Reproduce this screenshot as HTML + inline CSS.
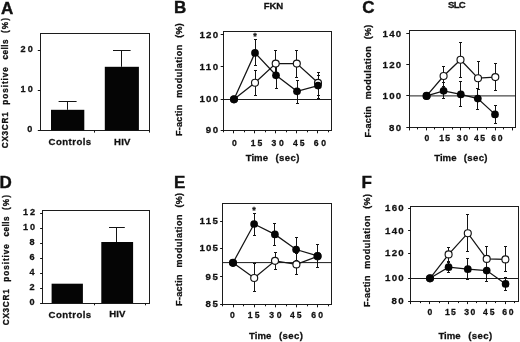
<!DOCTYPE html>
<html lang="en">
<head>
<meta charset="utf-8">
<title>CX3CR1 expression and F-actin modulation</title>
<style>
html,body{margin:0;padding:0;background:#fff;}
body{width:520px;height:342px;overflow:hidden;}
svg{display:block;filter:blur(0.3px);}
svg text{font-family:"Liberation Sans", sans-serif;font-weight:bold;fill:#111;stroke:#111;stroke-width:0.28px;}
svg text.pl{stroke-width:0.4px;}
</style>
</head>
<body>
<svg width="520" height="342" viewBox="0 0 520 342">
<rect x="0" y="0" width="520" height="342" fill="#fff"/>
<text class="pl" x="0.9" y="13.5" font-size="17">A</text>
<text transform="translate(7.8 148.2) rotate(-90) scale(1 1.18)" font-size="8.2" textLength="35.9" lengthAdjust="spacing">CX3CR1</text>
<text transform="translate(7.8 104.7) rotate(-90) scale(1 1.18)" font-size="8.2" textLength="37.6" lengthAdjust="spacing">positive</text>
<text transform="translate(7.8 59.4) rotate(-90) scale(1 1.18)" font-size="8.2" textLength="19.9" lengthAdjust="spacing">cells</text>
<text transform="translate(7.8 32.9) rotate(-90) scale(1 1.18)" font-size="8.2" textLength="14.8" lengthAdjust="spacing">(%)</text>
<line x1="40.0" y1="33.5" x2="150.0" y2="33.5" stroke="#1c1c1c" stroke-width="1.0"/>
<line x1="149.5" y1="33.5" x2="149.5" y2="130.5" stroke="#1c1c1c" stroke-width="1.0"/>
<line x1="40.5" y1="33.5" x2="40.5" y2="130.5" stroke="#1c1c1c" stroke-width="1.0"/>
<line x1="40.0" y1="130.5" x2="150.0" y2="130.5" stroke="#1c1c1c" stroke-width="1.0"/>
<line x1="37.8" y1="130.5" x2="40.5" y2="130.5" stroke="#141414" stroke-width="1.0"/>
<text x="27.2" y="131.9" font-size="9.1" textLength="5.5" lengthAdjust="spacing">0</text>
<line x1="37.8" y1="90.5" x2="40.5" y2="90.5" stroke="#141414" stroke-width="1.0"/>
<text x="20.6" y="91.89999999999999" font-size="9.1" textLength="12.1" lengthAdjust="spacing">10</text>
<line x1="37.8" y1="50.5" x2="40.5" y2="50.5" stroke="#141414" stroke-width="1.0"/>
<text x="20.6" y="52.0" font-size="9.1" textLength="12.1" lengthAdjust="spacing">20</text>
<line x1="94.5" y1="130.3" x2="94.5" y2="132.6" stroke="#141414" stroke-width="1.0"/>
<line x1="149.5" y1="130.3" x2="149.5" y2="132.6" stroke="#141414" stroke-width="1.0"/>
<rect x="51" y="109.8" width="33.3" height="20.5" fill="#050505" stroke="none" stroke-width="1.0"/>
<line x1="67.5" y1="101.0" x2="67.5" y2="109.8" stroke="#141414" stroke-width="1.0"/>
<line x1="58.6" y1="101.5" x2="76.6" y2="101.5" stroke="#141414" stroke-width="1.0"/>
<rect x="104.8" y="66.8" width="34.1" height="63.5" fill="#050505" stroke="none" stroke-width="1.0"/>
<line x1="121.5" y1="50.0" x2="121.5" y2="66.8" stroke="#141414" stroke-width="1.0"/>
<line x1="113" y1="50.5" x2="130.6" y2="50.5" stroke="#141414" stroke-width="1.0"/>
<text x="48.5" y="145" font-size="9.6" textLength="42.7" lengthAdjust="spacing">Controls</text>
<text x="114.1" y="145" font-size="9.6" textLength="16.2" lengthAdjust="spacing">HIV</text>
<text class="pl" x="-0.6" y="188.3" font-size="17">D</text>
<text transform="translate(9.3 325.2) rotate(-90) scale(1 1.18)" font-size="8.2" textLength="35.9" lengthAdjust="spacing">CX3CR1</text>
<text transform="translate(9.3 281.7) rotate(-90) scale(1 1.18)" font-size="8.2" textLength="37.6" lengthAdjust="spacing">positive</text>
<text transform="translate(9.3 236.4) rotate(-90) scale(1 1.18)" font-size="8.2" textLength="19.9" lengthAdjust="spacing">cells</text>
<text transform="translate(9.3 209.9) rotate(-90) scale(1 1.18)" font-size="8.2" textLength="14.8" lengthAdjust="spacing">(%)</text>
<line x1="42.0" y1="210.5" x2="150.0" y2="210.5" stroke="#1c1c1c" stroke-width="1.0"/>
<line x1="149.5" y1="210.5" x2="149.5" y2="303.5" stroke="#1c1c1c" stroke-width="1.0"/>
<line x1="42.5" y1="210.5" x2="42.5" y2="303.5" stroke="#1c1c1c" stroke-width="1.0"/>
<line x1="42.0" y1="303.5" x2="150.0" y2="303.5" stroke="#1c1c1c" stroke-width="1.0"/>
<line x1="40.1" y1="303.5" x2="42.8" y2="303.5" stroke="#141414" stroke-width="1.0"/>
<text x="29.6" y="304.6" font-size="9.1" textLength="5.4" lengthAdjust="spacing">0</text>
<line x1="40.1" y1="288.5" x2="42.8" y2="288.5" stroke="#141414" stroke-width="1.0"/>
<text x="29.6" y="289.6" font-size="9.1" textLength="5.4" lengthAdjust="spacing">2</text>
<line x1="40.1" y1="273.5" x2="42.8" y2="273.5" stroke="#141414" stroke-width="1.0"/>
<text x="29.6" y="274.6" font-size="9.1" textLength="5.4" lengthAdjust="spacing">4</text>
<line x1="40.1" y1="258.5" x2="42.8" y2="258.5" stroke="#141414" stroke-width="1.0"/>
<text x="29.6" y="259.6" font-size="9.1" textLength="5.4" lengthAdjust="spacing">6</text>
<line x1="40.1" y1="243.5" x2="42.8" y2="243.5" stroke="#141414" stroke-width="1.0"/>
<text x="29.6" y="244.6" font-size="9.1" textLength="5.4" lengthAdjust="spacing">8</text>
<line x1="40.1" y1="228.5" x2="42.8" y2="228.5" stroke="#141414" stroke-width="1.0"/>
<text x="22.9" y="229.6" font-size="9.1" textLength="12.1" lengthAdjust="spacing">10</text>
<line x1="40.1" y1="213.5" x2="42.8" y2="213.5" stroke="#141414" stroke-width="1.0"/>
<text x="22.9" y="214.6" font-size="9.1" textLength="12.1" lengthAdjust="spacing">12</text>
<line x1="94.5" y1="303" x2="94.5" y2="305.3" stroke="#141414" stroke-width="1.0"/>
<line x1="145.5" y1="303" x2="145.5" y2="305.3" stroke="#141414" stroke-width="1.0"/>
<rect x="51.6" y="283.7" width="31.3" height="19.3" fill="#050505" stroke="none" stroke-width="1.0"/>
<rect x="101.3" y="242" width="31.8" height="61" fill="#050505" stroke="none" stroke-width="1.0"/>
<line x1="116.5" y1="227.0" x2="116.5" y2="242" stroke="#141414" stroke-width="1.0"/>
<line x1="109" y1="227.5" x2="124.8" y2="227.5" stroke="#141414" stroke-width="1.0"/>
<text x="48.5" y="317.6" font-size="9.6" textLength="42.7" lengthAdjust="spacing">Controls</text>
<text x="109.3" y="317.4" font-size="9.6" textLength="16.0" lengthAdjust="spacing">HIV</text>
<text class="pl" x="174" y="13.3" font-size="17">B</text>
<text x="263.8" y="9.1" font-size="9.6" textLength="19.3" lengthAdjust="spacing">FKN</text>
<text transform="translate(182.3 136.1) rotate(-90) scale(1 1.0)" font-size="9.0" textLength="31.4" lengthAdjust="spacing">F-actin</text>
<text transform="translate(182.3 97.8) rotate(-90) scale(1 1.0)" font-size="9.0" textLength="53.1" lengthAdjust="spacing">modulation</text>
<text transform="translate(182.3 37.8) rotate(-90) scale(1 1.0)" font-size="9.0" textLength="14.6" lengthAdjust="spacing">(%)</text>
<line x1="223.0" y1="31.5" x2="332.0" y2="31.5" stroke="#1c1c1c" stroke-width="1.0"/>
<line x1="331.5" y1="31.5" x2="331.5" y2="130.5" stroke="#1c1c1c" stroke-width="1.0"/>
<line x1="223.5" y1="31.5" x2="223.5" y2="130.5" stroke="#1c1c1c" stroke-width="1.0"/>
<line x1="223.0" y1="130.5" x2="332.0" y2="130.5" stroke="#1c1c1c" stroke-width="1.0"/>
<line x1="223.4" y1="99.5" x2="331.5" y2="99.5" stroke="#1c1c1c" stroke-width="1.0"/>
<line x1="220.7" y1="34.5" x2="223.4" y2="34.5" stroke="#141414" stroke-width="1.0"/>
<text x="199.4" y="37.699999999999996" font-size="9.7" textLength="18.8" lengthAdjust="spacing">120</text>
<line x1="220.7" y1="66.5" x2="223.4" y2="66.5" stroke="#141414" stroke-width="1.0"/>
<text x="199.4" y="69.60000000000001" font-size="9.7" textLength="18.8" lengthAdjust="spacing">110</text>
<line x1="220.7" y1="99.5" x2="223.4" y2="99.5" stroke="#141414" stroke-width="1.0"/>
<text x="199.4" y="102.10000000000001" font-size="9.7" textLength="18.8" lengthAdjust="spacing">100</text>
<line x1="220.7" y1="130.5" x2="223.4" y2="130.5" stroke="#141414" stroke-width="1.0"/>
<text x="205.8" y="133.4" font-size="9.7" textLength="12.4" lengthAdjust="spacing">90</text>
<line x1="223.5" y1="130.5" x2="223.5" y2="132.3" stroke="#141414" stroke-width="1.0"/>
<line x1="233.5" y1="130.5" x2="233.5" y2="133.3" stroke="#141414" stroke-width="1.0"/>
<line x1="244.5" y1="130.5" x2="244.5" y2="132.3" stroke="#141414" stroke-width="1.0"/>
<line x1="254.5" y1="130.5" x2="254.5" y2="133.3" stroke="#141414" stroke-width="1.0"/>
<line x1="265.5" y1="130.5" x2="265.5" y2="132.3" stroke="#141414" stroke-width="1.0"/>
<line x1="275.5" y1="130.5" x2="275.5" y2="133.3" stroke="#141414" stroke-width="1.0"/>
<line x1="286.5" y1="130.5" x2="286.5" y2="132.3" stroke="#141414" stroke-width="1.0"/>
<line x1="296.5" y1="130.5" x2="296.5" y2="133.3" stroke="#141414" stroke-width="1.0"/>
<line x1="307.5" y1="130.5" x2="307.5" y2="132.3" stroke="#141414" stroke-width="1.0"/>
<line x1="317.5" y1="130.5" x2="317.5" y2="133.3" stroke="#141414" stroke-width="1.0"/>
<line x1="328.5" y1="130.5" x2="328.5" y2="132.3" stroke="#141414" stroke-width="1.0"/>
<text x="234.3" y="145.8" font-size="8.6" text-anchor="middle">0</text>
<text x="250.8" y="145.8" font-size="8.6" textLength="11.6" lengthAdjust="spacing">15</text>
<text x="271.5" y="145.8" font-size="8.6" textLength="12.4" lengthAdjust="spacing">30</text>
<text x="293.0" y="145.8" font-size="8.6" textLength="11.6" lengthAdjust="spacing">45</text>
<text x="313.8" y="145.8" font-size="8.6" textLength="12.3" lengthAdjust="spacing">60</text>
<text x="245.7" y="161.3" font-size="9.6" textLength="22.3" lengthAdjust="spacing">Time</text>
<text x="275.5" y="161.3" font-size="9.6" textLength="24.0" lengthAdjust="spacing">(sec)</text>
<polyline points="234,99.3 255,82.7 275.7,63.6 296.8,63.6 318,82.8" fill="none" stroke="#141414" stroke-width="1.25"/>
<polyline points="234,99.3 255,52.9 276,75.3 297,91.3 318,85.6" fill="none" stroke="#141414" stroke-width="1.25"/>
<line x1="255.5" y1="70.0" x2="255.5" y2="96.0" stroke="#141414" stroke-width="1.0"/>
<line x1="254.0" y1="70.5" x2="257.0" y2="70.5" stroke="#141414" stroke-width="1.0"/>
<line x1="254.0" y1="95.5" x2="257.0" y2="95.5" stroke="#141414" stroke-width="1.0"/>
<line x1="275.5" y1="50.0" x2="275.5" y2="77.0" stroke="#141414" stroke-width="1.0"/>
<line x1="274.0" y1="50.5" x2="277.0" y2="50.5" stroke="#141414" stroke-width="1.0"/>
<line x1="274.0" y1="76.5" x2="277.0" y2="76.5" stroke="#141414" stroke-width="1.0"/>
<line x1="296.5" y1="50.0" x2="296.5" y2="78.0" stroke="#141414" stroke-width="1.0"/>
<line x1="295.0" y1="50.5" x2="298.0" y2="50.5" stroke="#141414" stroke-width="1.0"/>
<line x1="295.0" y1="77.5" x2="298.0" y2="77.5" stroke="#141414" stroke-width="1.0"/>
<line x1="318.5" y1="72.0" x2="318.5" y2="96.0" stroke="#141414" stroke-width="1.0"/>
<line x1="317.0" y1="72.5" x2="320.0" y2="72.5" stroke="#141414" stroke-width="1.0"/>
<line x1="317.0" y1="95.5" x2="320.0" y2="95.5" stroke="#141414" stroke-width="1.0"/>
<line x1="255.5" y1="39.0" x2="255.5" y2="66.0" stroke="#141414" stroke-width="1.0"/>
<line x1="254.0" y1="39.5" x2="257.0" y2="39.5" stroke="#141414" stroke-width="1.0"/>
<line x1="254.0" y1="65.5" x2="257.0" y2="65.5" stroke="#141414" stroke-width="1.0"/>
<line x1="276.5" y1="63.0" x2="276.5" y2="89.0" stroke="#141414" stroke-width="1.0"/>
<line x1="275.0" y1="63.5" x2="278.0" y2="63.5" stroke="#141414" stroke-width="1.0"/>
<line x1="275.0" y1="88.5" x2="278.0" y2="88.5" stroke="#141414" stroke-width="1.0"/>
<line x1="297.5" y1="80.0" x2="297.5" y2="104.0" stroke="#141414" stroke-width="1.0"/>
<line x1="296.0" y1="80.5" x2="299.0" y2="80.5" stroke="#141414" stroke-width="1.0"/>
<line x1="296.0" y1="103.5" x2="299.0" y2="103.5" stroke="#141414" stroke-width="1.0"/>
<line x1="318.5" y1="75.0" x2="318.5" y2="99.0" stroke="#141414" stroke-width="1.0"/>
<line x1="317.0" y1="75.5" x2="320.0" y2="75.5" stroke="#141414" stroke-width="1.0"/>
<line x1="317.0" y1="98.5" x2="320.0" y2="98.5" stroke="#141414" stroke-width="1.0"/>
<circle cx="234" cy="99.3" r="3.5" fill="#fff" stroke="#141414" stroke-width="1.15"/>
<circle cx="255" cy="82.7" r="3.5" fill="#fff" stroke="#141414" stroke-width="1.15"/>
<circle cx="275.7" cy="63.6" r="3.5" fill="#fff" stroke="#141414" stroke-width="1.15"/>
<circle cx="296.8" cy="63.6" r="3.5" fill="#fff" stroke="#141414" stroke-width="1.15"/>
<circle cx="318" cy="82.8" r="3.5" fill="#fff" stroke="#141414" stroke-width="1.15"/>
<circle cx="234" cy="99.3" r="3.85" fill="#050505"/>
<circle cx="255" cy="52.9" r="3.85" fill="#050505"/>
<circle cx="276" cy="75.3" r="3.85" fill="#050505"/>
<circle cx="297" cy="91.3" r="3.85" fill="#050505"/>
<circle cx="318" cy="85.6" r="3.85" fill="#050505"/>
<text x="255" y="38.5" font-size="9" text-anchor="middle">*</text>
<text class="pl" x="362.3" y="13.4" font-size="17">C</text>
<text x="447.9" y="8.1" font-size="9.6" textLength="17.9" lengthAdjust="spacing">SLC</text>
<text transform="translate(370.6 137.6) rotate(-90) scale(1 1.0)" font-size="9.0" textLength="31.4" lengthAdjust="spacing">F-actin</text>
<text transform="translate(370.6 99.3) rotate(-90) scale(1 1.0)" font-size="9.0" textLength="53.1" lengthAdjust="spacing">modulation</text>
<text transform="translate(370.6 39.3) rotate(-90) scale(1 1.0)" font-size="9.0" textLength="14.6" lengthAdjust="spacing">(%)</text>
<line x1="409.0" y1="30.5" x2="516.0" y2="30.5" stroke="#1c1c1c" stroke-width="1.0"/>
<line x1="515.5" y1="30.5" x2="515.5" y2="127.5" stroke="#1c1c1c" stroke-width="1.0"/>
<line x1="409.5" y1="30.5" x2="409.5" y2="127.5" stroke="#1c1c1c" stroke-width="1.0"/>
<line x1="409.0" y1="127.5" x2="516.0" y2="127.5" stroke="#1c1c1c" stroke-width="1.0"/>
<line x1="409" y1="95.9" x2="515.8" y2="95.9" stroke="#1c1c1c" stroke-width="1.0"/>
<line x1="406.3" y1="33.5" x2="409" y2="33.5" stroke="#141414" stroke-width="1.0"/>
<text x="382.6" y="36.6" font-size="9.7" textLength="18.6" lengthAdjust="spacing">140</text>
<line x1="406.3" y1="64.5" x2="409" y2="64.5" stroke="#141414" stroke-width="1.0"/>
<text x="382.6" y="67.60000000000001" font-size="9.7" textLength="18.6" lengthAdjust="spacing">120</text>
<line x1="406.3" y1="95.5" x2="409" y2="95.5" stroke="#141414" stroke-width="1.0"/>
<text x="382.6" y="98.7" font-size="9.7" textLength="18.6" lengthAdjust="spacing">100</text>
<line x1="406.3" y1="127.5" x2="409" y2="127.5" stroke="#141414" stroke-width="1.0"/>
<text x="389.0" y="130.5" font-size="9.7" textLength="12.2" lengthAdjust="spacing">80</text>
<line x1="409.5" y1="127.6" x2="409.5" y2="130.4" stroke="#141414" stroke-width="1.0"/>
<line x1="417.5" y1="127.6" x2="417.5" y2="129.4" stroke="#141414" stroke-width="1.0"/>
<line x1="426.5" y1="127.6" x2="426.5" y2="130.4" stroke="#141414" stroke-width="1.0"/>
<line x1="434.5" y1="127.6" x2="434.5" y2="129.4" stroke="#141414" stroke-width="1.0"/>
<line x1="443.5" y1="127.6" x2="443.5" y2="130.4" stroke="#141414" stroke-width="1.0"/>
<line x1="452.5" y1="127.6" x2="452.5" y2="129.4" stroke="#141414" stroke-width="1.0"/>
<line x1="460.5" y1="127.6" x2="460.5" y2="130.4" stroke="#141414" stroke-width="1.0"/>
<line x1="469.5" y1="127.6" x2="469.5" y2="129.4" stroke="#141414" stroke-width="1.0"/>
<line x1="477.5" y1="127.6" x2="477.5" y2="130.4" stroke="#141414" stroke-width="1.0"/>
<line x1="486.5" y1="127.6" x2="486.5" y2="129.4" stroke="#141414" stroke-width="1.0"/>
<line x1="495.5" y1="127.6" x2="495.5" y2="130.4" stroke="#141414" stroke-width="1.0"/>
<line x1="503.5" y1="127.6" x2="503.5" y2="129.4" stroke="#141414" stroke-width="1.0"/>
<line x1="512.5" y1="127.6" x2="512.5" y2="130.4" stroke="#141414" stroke-width="1.0"/>
<text x="427" y="141.3" font-size="8.6" text-anchor="middle">0</text>
<text x="439.3" y="141.3" font-size="8.6" textLength="10.7" lengthAdjust="spacing">15</text>
<text x="456.8" y="141.3" font-size="8.6" textLength="11.2" lengthAdjust="spacing">30</text>
<text x="473.9" y="141.3" font-size="8.6" textLength="11.2" lengthAdjust="spacing">45</text>
<text x="491.2" y="141.3" font-size="8.6" textLength="11.4" lengthAdjust="spacing">60</text>
<text x="434.2" y="161.3" font-size="9.6" textLength="22.3" lengthAdjust="spacing">Time</text>
<text x="463.8" y="161.3" font-size="9.6" textLength="23.7" lengthAdjust="spacing">(sec)</text>
<polyline points="426.6,95.9 443.6,76.0 460.5,59.7 478,78.2 495.3,77.1" fill="none" stroke="#141414" stroke-width="1.25"/>
<polyline points="426.6,95.9 443.6,90.8 460.8,94.4 477.8,98.6 495,114.4" fill="none" stroke="#141414" stroke-width="1.25"/>
<line x1="443.5" y1="66.0" x2="443.5" y2="87.0" stroke="#141414" stroke-width="1.0"/>
<line x1="442.0" y1="66.5" x2="445.0" y2="66.5" stroke="#141414" stroke-width="1.0"/>
<line x1="442.0" y1="86.5" x2="445.0" y2="86.5" stroke="#141414" stroke-width="1.0"/>
<line x1="460.5" y1="42.0" x2="460.5" y2="78.0" stroke="#141414" stroke-width="1.0"/>
<line x1="459.0" y1="42.5" x2="462.0" y2="42.5" stroke="#141414" stroke-width="1.0"/>
<line x1="459.0" y1="77.5" x2="462.0" y2="77.5" stroke="#141414" stroke-width="1.0"/>
<line x1="478.5" y1="61.0" x2="478.5" y2="90.0" stroke="#141414" stroke-width="1.0"/>
<line x1="477.0" y1="61.5" x2="480.0" y2="61.5" stroke="#141414" stroke-width="1.0"/>
<line x1="477.0" y1="89.5" x2="480.0" y2="89.5" stroke="#141414" stroke-width="1.0"/>
<line x1="495.5" y1="63.0" x2="495.5" y2="91.0" stroke="#141414" stroke-width="1.0"/>
<line x1="494.0" y1="63.5" x2="497.0" y2="63.5" stroke="#141414" stroke-width="1.0"/>
<line x1="494.0" y1="90.5" x2="497.0" y2="90.5" stroke="#141414" stroke-width="1.0"/>
<line x1="443.5" y1="82.0" x2="443.5" y2="99.0" stroke="#141414" stroke-width="1.0"/>
<line x1="442.0" y1="82.5" x2="445.0" y2="82.5" stroke="#141414" stroke-width="1.0"/>
<line x1="442.0" y1="98.5" x2="445.0" y2="98.5" stroke="#141414" stroke-width="1.0"/>
<line x1="460.5" y1="81.0" x2="460.5" y2="107.0" stroke="#141414" stroke-width="1.0"/>
<line x1="459.0" y1="81.5" x2="462.0" y2="81.5" stroke="#141414" stroke-width="1.0"/>
<line x1="459.0" y1="106.5" x2="462.0" y2="106.5" stroke="#141414" stroke-width="1.0"/>
<line x1="477.5" y1="88.0" x2="477.5" y2="110.0" stroke="#141414" stroke-width="1.0"/>
<line x1="476.0" y1="88.5" x2="479.0" y2="88.5" stroke="#141414" stroke-width="1.0"/>
<line x1="476.0" y1="109.5" x2="479.0" y2="109.5" stroke="#141414" stroke-width="1.0"/>
<line x1="495.5" y1="105.0" x2="495.5" y2="124.0" stroke="#141414" stroke-width="1.0"/>
<line x1="494.0" y1="105.5" x2="497.0" y2="105.5" stroke="#141414" stroke-width="1.0"/>
<line x1="494.0" y1="123.5" x2="497.0" y2="123.5" stroke="#141414" stroke-width="1.0"/>
<circle cx="426.6" cy="95.9" r="3.5" fill="#fff" stroke="#141414" stroke-width="1.15"/>
<circle cx="443.6" cy="76.0" r="3.5" fill="#fff" stroke="#141414" stroke-width="1.15"/>
<circle cx="460.5" cy="59.7" r="3.5" fill="#fff" stroke="#141414" stroke-width="1.15"/>
<circle cx="478" cy="78.2" r="3.5" fill="#fff" stroke="#141414" stroke-width="1.15"/>
<circle cx="495.3" cy="77.1" r="3.5" fill="#fff" stroke="#141414" stroke-width="1.15"/>
<circle cx="426.6" cy="95.9" r="3.85" fill="#050505"/>
<circle cx="443.6" cy="90.8" r="3.85" fill="#050505"/>
<circle cx="460.8" cy="94.4" r="3.85" fill="#050505"/>
<circle cx="477.8" cy="98.6" r="3.85" fill="#050505"/>
<circle cx="495" cy="114.4" r="3.85" fill="#050505"/>
<text class="pl" x="174" y="188.4" font-size="17">E</text>
<text transform="translate(182.3 305.9) rotate(-90) scale(1 1.0)" font-size="9.0" textLength="31.4" lengthAdjust="spacing">F-actin</text>
<text transform="translate(182.3 267.6) rotate(-90) scale(1 1.0)" font-size="9.0" textLength="53.1" lengthAdjust="spacing">modulation</text>
<text transform="translate(182.3 207.6) rotate(-90) scale(1 1.0)" font-size="9.0" textLength="14.6" lengthAdjust="spacing">(%)</text>
<line x1="222.0" y1="203.5" x2="332.0" y2="203.5" stroke="#1c1c1c" stroke-width="1.0"/>
<line x1="331.5" y1="203.5" x2="331.5" y2="304.5" stroke="#1c1c1c" stroke-width="1.0"/>
<line x1="222.5" y1="203.5" x2="222.5" y2="304.5" stroke="#1c1c1c" stroke-width="1.0"/>
<line x1="222.0" y1="304.5" x2="332.0" y2="304.5" stroke="#1c1c1c" stroke-width="1.0"/>
<line x1="222.8" y1="262.6" x2="331" y2="262.6" stroke="#1c1c1c" stroke-width="1.0"/>
<line x1="220.1" y1="221.5" x2="222.8" y2="221.5" stroke="#141414" stroke-width="1.0"/>
<text x="199.4" y="224.1" font-size="9.7" textLength="18.4" lengthAdjust="spacing">115</text>
<line x1="220.1" y1="248.5" x2="222.8" y2="248.5" stroke="#141414" stroke-width="1.0"/>
<text x="199.4" y="251.4" font-size="9.7" textLength="18.4" lengthAdjust="spacing">105</text>
<line x1="220.1" y1="276.5" x2="222.8" y2="276.5" stroke="#141414" stroke-width="1.0"/>
<text x="205.6" y="279.5" font-size="9.7" textLength="12.2" lengthAdjust="spacing">95</text>
<line x1="220.1" y1="304.5" x2="222.8" y2="304.5" stroke="#141414" stroke-width="1.0"/>
<text x="205.6" y="307.4" font-size="9.7" textLength="12.2" lengthAdjust="spacing">85</text>
<line x1="222.5" y1="304.5" x2="222.5" y2="306.3" stroke="#141414" stroke-width="1.0"/>
<line x1="233.5" y1="304.5" x2="233.5" y2="307.3" stroke="#141414" stroke-width="1.0"/>
<line x1="243.5" y1="304.5" x2="243.5" y2="306.3" stroke="#141414" stroke-width="1.0"/>
<line x1="254.5" y1="304.5" x2="254.5" y2="307.3" stroke="#141414" stroke-width="1.0"/>
<line x1="265.5" y1="304.5" x2="265.5" y2="306.3" stroke="#141414" stroke-width="1.0"/>
<line x1="275.5" y1="304.5" x2="275.5" y2="307.3" stroke="#141414" stroke-width="1.0"/>
<line x1="286.5" y1="304.5" x2="286.5" y2="306.3" stroke="#141414" stroke-width="1.0"/>
<line x1="296.5" y1="304.5" x2="296.5" y2="307.3" stroke="#141414" stroke-width="1.0"/>
<line x1="307.5" y1="304.5" x2="307.5" y2="306.3" stroke="#141414" stroke-width="1.0"/>
<line x1="317.5" y1="304.5" x2="317.5" y2="307.3" stroke="#141414" stroke-width="1.0"/>
<line x1="328.5" y1="304.5" x2="328.5" y2="306.3" stroke="#141414" stroke-width="1.0"/>
<text x="232.3" y="318.2" font-size="8.6" text-anchor="middle">0</text>
<text x="247.8" y="318.2" font-size="8.6" textLength="11.8" lengthAdjust="spacing">15</text>
<text x="269.2" y="318.2" font-size="8.6" textLength="12.4" lengthAdjust="spacing">30</text>
<text x="290.0" y="318.2" font-size="8.6" textLength="11.6" lengthAdjust="spacing">45</text>
<text x="311.2" y="318.2" font-size="8.6" textLength="11.9" lengthAdjust="spacing">60</text>
<text x="249.1" y="338.8" font-size="9.6" textLength="22.3" lengthAdjust="spacing">Time</text>
<text x="278.9" y="338.8" font-size="9.6" textLength="24.0" lengthAdjust="spacing">(sec)</text>
<polyline points="233,262.8 254.2,278 275,260.8 296.4,264.4 317.6,256.3" fill="none" stroke="#141414" stroke-width="1.25"/>
<polyline points="233,262.8 254.1,224 274.9,234.4 296.1,249.5 317.6,255.9" fill="none" stroke="#141414" stroke-width="1.25"/>
<line x1="254.5" y1="263.0" x2="254.5" y2="292.0" stroke="#141414" stroke-width="1.0"/>
<line x1="253.0" y1="263.5" x2="256.0" y2="263.5" stroke="#141414" stroke-width="1.0"/>
<line x1="253.0" y1="291.5" x2="256.0" y2="291.5" stroke="#141414" stroke-width="1.0"/>
<line x1="275.5" y1="252.0" x2="275.5" y2="270.0" stroke="#141414" stroke-width="1.0"/>
<line x1="274.0" y1="252.5" x2="277.0" y2="252.5" stroke="#141414" stroke-width="1.0"/>
<line x1="274.0" y1="269.5" x2="277.0" y2="269.5" stroke="#141414" stroke-width="1.0"/>
<line x1="296.5" y1="253.0" x2="296.5" y2="275.0" stroke="#141414" stroke-width="1.0"/>
<line x1="295.0" y1="253.5" x2="298.0" y2="253.5" stroke="#141414" stroke-width="1.0"/>
<line x1="295.0" y1="274.5" x2="298.0" y2="274.5" stroke="#141414" stroke-width="1.0"/>
<line x1="254.5" y1="213.0" x2="254.5" y2="236.0" stroke="#141414" stroke-width="1.0"/>
<line x1="253.0" y1="213.5" x2="256.0" y2="213.5" stroke="#141414" stroke-width="1.0"/>
<line x1="253.0" y1="235.5" x2="256.0" y2="235.5" stroke="#141414" stroke-width="1.0"/>
<line x1="274.5" y1="223.0" x2="274.5" y2="246.0" stroke="#141414" stroke-width="1.0"/>
<line x1="273.0" y1="223.5" x2="276.0" y2="223.5" stroke="#141414" stroke-width="1.0"/>
<line x1="273.0" y1="245.5" x2="276.0" y2="245.5" stroke="#141414" stroke-width="1.0"/>
<line x1="296.5" y1="237.0" x2="296.5" y2="261.0" stroke="#141414" stroke-width="1.0"/>
<line x1="295.0" y1="237.5" x2="298.0" y2="237.5" stroke="#141414" stroke-width="1.0"/>
<line x1="295.0" y1="260.5" x2="298.0" y2="260.5" stroke="#141414" stroke-width="1.0"/>
<line x1="317.5" y1="244.0" x2="317.5" y2="268.0" stroke="#141414" stroke-width="1.0"/>
<line x1="316.0" y1="244.5" x2="319.0" y2="244.5" stroke="#141414" stroke-width="1.0"/>
<line x1="316.0" y1="267.5" x2="319.0" y2="267.5" stroke="#141414" stroke-width="1.0"/>
<circle cx="233" cy="262.8" r="3.5" fill="#fff" stroke="#141414" stroke-width="1.15"/>
<circle cx="254.2" cy="278" r="3.5" fill="#fff" stroke="#141414" stroke-width="1.15"/>
<circle cx="275" cy="260.8" r="3.5" fill="#fff" stroke="#141414" stroke-width="1.15"/>
<circle cx="296.4" cy="264.4" r="3.5" fill="#fff" stroke="#141414" stroke-width="1.15"/>
<circle cx="317.6" cy="256.3" r="3.5" fill="#fff" stroke="#141414" stroke-width="1.15"/>
<circle cx="233" cy="262.8" r="3.85" fill="#050505"/>
<circle cx="254.1" cy="224" r="3.85" fill="#050505"/>
<circle cx="274.9" cy="234.4" r="3.85" fill="#050505"/>
<circle cx="296.1" cy="249.5" r="3.85" fill="#050505"/>
<circle cx="317.6" cy="255.9" r="3.85" fill="#050505"/>
<text x="254.1" y="212.5" font-size="9" text-anchor="middle">*</text>
<text class="pl" x="361.5" y="188.3" font-size="17">F</text>
<text transform="translate(370.0 307.0) rotate(-90) scale(1 1.0)" font-size="9.0" textLength="31.4" lengthAdjust="spacing">F-actin</text>
<text transform="translate(370.0 268.7) rotate(-90) scale(1 1.0)" font-size="9.0" textLength="53.1" lengthAdjust="spacing">modulation</text>
<text transform="translate(370.0 208.7) rotate(-90) scale(1 1.0)" font-size="9.0" textLength="14.6" lengthAdjust="spacing">(%)</text>
<line x1="410.0" y1="206.5" x2="519.0" y2="206.5" stroke="#1c1c1c" stroke-width="1.0"/>
<line x1="518.5" y1="206.5" x2="518.5" y2="301.5" stroke="#1c1c1c" stroke-width="1.0"/>
<line x1="410.5" y1="206.5" x2="410.5" y2="301.5" stroke="#1c1c1c" stroke-width="1.0"/>
<line x1="410.0" y1="301.5" x2="519.0" y2="301.5" stroke="#1c1c1c" stroke-width="1.0"/>
<line x1="410.8" y1="278.5" x2="518.9" y2="278.5" stroke="#1c1c1c" stroke-width="1.0"/>
<line x1="408.1" y1="208.5" x2="410.8" y2="208.5" stroke="#141414" stroke-width="1.0"/>
<text x="385.1" y="210.9" font-size="9.7" textLength="18.5" lengthAdjust="spacing">160</text>
<line x1="408.1" y1="230.5" x2="410.8" y2="230.5" stroke="#141414" stroke-width="1.0"/>
<text x="385.1" y="233.5" font-size="9.7" textLength="18.5" lengthAdjust="spacing">140</text>
<line x1="408.1" y1="253.5" x2="410.8" y2="253.5" stroke="#141414" stroke-width="1.0"/>
<text x="385.1" y="256.2" font-size="9.7" textLength="18.5" lengthAdjust="spacing">120</text>
<line x1="408.1" y1="278.5" x2="410.8" y2="278.5" stroke="#141414" stroke-width="1.0"/>
<text x="385.1" y="281.09999999999997" font-size="9.7" textLength="18.5" lengthAdjust="spacing">100</text>
<line x1="408.1" y1="301.5" x2="410.8" y2="301.5" stroke="#141414" stroke-width="1.0"/>
<text x="391.4" y="303.9" font-size="9.7" textLength="12.2" lengthAdjust="spacing">80</text>
<line x1="410.5" y1="301.3" x2="410.5" y2="304.1" stroke="#141414" stroke-width="1.0"/>
<line x1="420.5" y1="301.3" x2="420.5" y2="303.1" stroke="#141414" stroke-width="1.0"/>
<line x1="429.5" y1="301.3" x2="429.5" y2="304.1" stroke="#141414" stroke-width="1.0"/>
<line x1="439.5" y1="301.3" x2="439.5" y2="303.1" stroke="#141414" stroke-width="1.0"/>
<line x1="448.5" y1="301.3" x2="448.5" y2="304.1" stroke="#141414" stroke-width="1.0"/>
<line x1="458.5" y1="301.3" x2="458.5" y2="303.1" stroke="#141414" stroke-width="1.0"/>
<line x1="467.5" y1="301.3" x2="467.5" y2="304.1" stroke="#141414" stroke-width="1.0"/>
<line x1="476.5" y1="301.3" x2="476.5" y2="303.1" stroke="#141414" stroke-width="1.0"/>
<line x1="486.5" y1="301.3" x2="486.5" y2="304.1" stroke="#141414" stroke-width="1.0"/>
<line x1="495.5" y1="301.3" x2="495.5" y2="303.1" stroke="#141414" stroke-width="1.0"/>
<line x1="505.5" y1="301.3" x2="505.5" y2="304.1" stroke="#141414" stroke-width="1.0"/>
<line x1="514.5" y1="301.3" x2="514.5" y2="303.1" stroke="#141414" stroke-width="1.0"/>
<text x="430" y="315" font-size="8.6" text-anchor="middle">0</text>
<text x="445.1" y="315" font-size="8.6" textLength="10.7" lengthAdjust="spacing">15</text>
<text x="464.2" y="315" font-size="8.6" textLength="11.2" lengthAdjust="spacing">30</text>
<text x="483.1" y="315" font-size="8.6" textLength="11.5" lengthAdjust="spacing">45</text>
<text x="502.3" y="315" font-size="8.6" textLength="11.2" lengthAdjust="spacing">60</text>
<text x="438.4" y="339.2" font-size="9.6" textLength="22.3" lengthAdjust="spacing">Time</text>
<text x="468.2" y="339.2" font-size="9.6" textLength="24.0" lengthAdjust="spacing">(sec)</text>
<polyline points="430,278.3 448.6,254.4 467.8,233.2 486.7,258.9 505.4,259.4" fill="none" stroke="#141414" stroke-width="1.25"/>
<polyline points="430,278.3 448.6,267.2 467.8,269.2 486.7,270.6 505.6,283.9" fill="none" stroke="#141414" stroke-width="1.25"/>
<line x1="448.5" y1="247.0" x2="448.5" y2="262.0" stroke="#141414" stroke-width="1.0"/>
<line x1="447.0" y1="247.5" x2="450.0" y2="247.5" stroke="#141414" stroke-width="1.0"/>
<line x1="447.0" y1="261.5" x2="450.0" y2="261.5" stroke="#141414" stroke-width="1.0"/>
<line x1="467.5" y1="214.0" x2="467.5" y2="252.0" stroke="#141414" stroke-width="1.0"/>
<line x1="466.0" y1="214.5" x2="469.0" y2="214.5" stroke="#141414" stroke-width="1.0"/>
<line x1="466.0" y1="251.5" x2="469.0" y2="251.5" stroke="#141414" stroke-width="1.0"/>
<line x1="486.5" y1="246.0" x2="486.5" y2="271.0" stroke="#141414" stroke-width="1.0"/>
<line x1="485.0" y1="246.5" x2="488.0" y2="246.5" stroke="#141414" stroke-width="1.0"/>
<line x1="485.0" y1="270.5" x2="488.0" y2="270.5" stroke="#141414" stroke-width="1.0"/>
<line x1="505.5" y1="246.0" x2="505.5" y2="272.0" stroke="#141414" stroke-width="1.0"/>
<line x1="504.0" y1="246.5" x2="507.0" y2="246.5" stroke="#141414" stroke-width="1.0"/>
<line x1="504.0" y1="271.5" x2="507.0" y2="271.5" stroke="#141414" stroke-width="1.0"/>
<line x1="448.5" y1="262.0" x2="448.5" y2="273.0" stroke="#141414" stroke-width="1.0"/>
<line x1="447.0" y1="262.5" x2="450.0" y2="262.5" stroke="#141414" stroke-width="1.0"/>
<line x1="447.0" y1="272.5" x2="450.0" y2="272.5" stroke="#141414" stroke-width="1.0"/>
<line x1="467.5" y1="258.0" x2="467.5" y2="280.0" stroke="#141414" stroke-width="1.0"/>
<line x1="466.0" y1="258.5" x2="469.0" y2="258.5" stroke="#141414" stroke-width="1.0"/>
<line x1="466.0" y1="279.5" x2="469.0" y2="279.5" stroke="#141414" stroke-width="1.0"/>
<line x1="486.5" y1="260.0" x2="486.5" y2="282.0" stroke="#141414" stroke-width="1.0"/>
<line x1="485.0" y1="260.5" x2="488.0" y2="260.5" stroke="#141414" stroke-width="1.0"/>
<line x1="485.0" y1="281.5" x2="488.0" y2="281.5" stroke="#141414" stroke-width="1.0"/>
<line x1="505.5" y1="277.0" x2="505.5" y2="291.0" stroke="#141414" stroke-width="1.0"/>
<line x1="504.0" y1="277.5" x2="507.0" y2="277.5" stroke="#141414" stroke-width="1.0"/>
<line x1="504.0" y1="290.5" x2="507.0" y2="290.5" stroke="#141414" stroke-width="1.0"/>
<circle cx="430" cy="278.3" r="3.5" fill="#fff" stroke="#141414" stroke-width="1.15"/>
<circle cx="448.6" cy="254.4" r="3.5" fill="#fff" stroke="#141414" stroke-width="1.15"/>
<circle cx="467.8" cy="233.2" r="3.5" fill="#fff" stroke="#141414" stroke-width="1.15"/>
<circle cx="486.7" cy="258.9" r="3.5" fill="#fff" stroke="#141414" stroke-width="1.15"/>
<circle cx="505.4" cy="259.4" r="3.5" fill="#fff" stroke="#141414" stroke-width="1.15"/>
<circle cx="430" cy="278.3" r="3.85" fill="#050505"/>
<circle cx="448.6" cy="267.2" r="3.85" fill="#050505"/>
<circle cx="467.8" cy="269.2" r="3.85" fill="#050505"/>
<circle cx="486.7" cy="270.6" r="3.85" fill="#050505"/>
<circle cx="505.6" cy="283.9" r="3.85" fill="#050505"/>
</svg>
</body>
</html>
